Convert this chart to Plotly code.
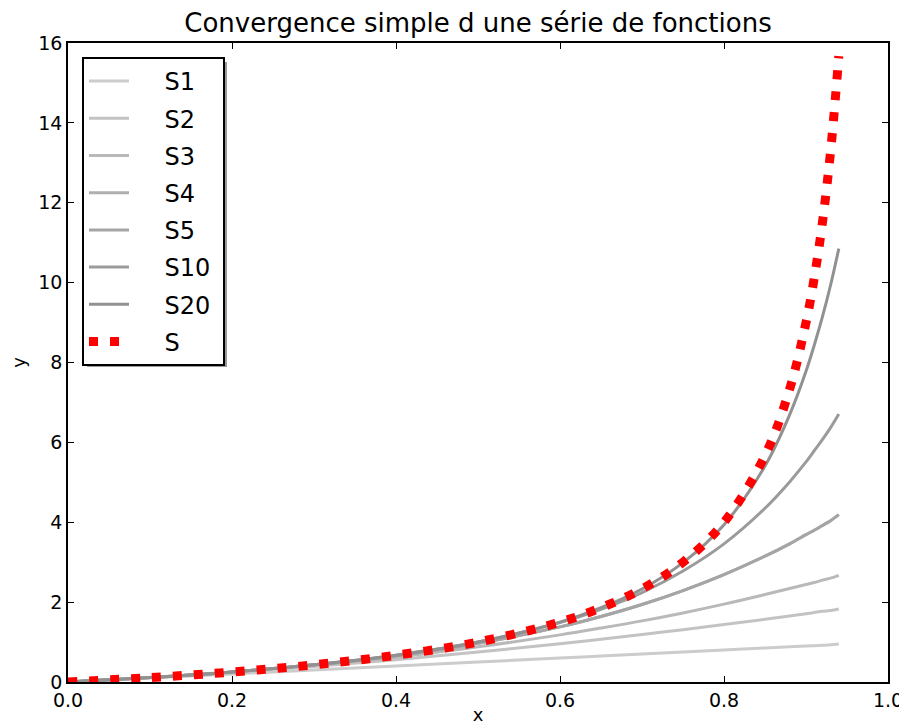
import plotly.graph_objects as go

# sampled x positions
x = [0.0, 0.1, 0.2, 0.3, 0.4, 0.5, 0.6, 0.65, 0.7, 0.75, 0.8, 0.85, 0.88, 0.9, 0.91, 0.92, 0.93, 0.94]

# partial sums
s1 = [0.0, 0.10, 0.20, 0.30, 0.40, 0.50, 0.60, 0.65, 0.70, 0.75, 0.80, 0.85, 0.88, 0.90, 0.91, 0.92, 0.93, 0.95]
s2 = [0.0, 0.11, 0.24, 0.39, 0.56, 0.75, 0.96, 1.07, 1.19, 1.31, 1.44, 1.57, 1.65, 1.71, 1.74, 1.77, 1.79, 1.83]
s3 = [0.0, 0.11, 0.25, 0.42, 0.62, 0.88, 1.18, 1.35, 1.53, 1.73, 1.95, 2.19, 2.34, 2.44, 2.49, 2.55, 2.60, 2.67]
s4 = [0.0, 0.11, 0.25, 0.43, 0.66, 0.97, 1.38, 1.64, 1.94, 2.29, 2.69, 3.15, 3.46, 3.69, 3.80, 3.92, 4.04, 4.19]
s5 = [0.0, 0.11, 0.25, 0.43, 0.66, 0.97, 1.38, 1.64, 1.94, 2.29, 2.69, 3.15, 3.46, 3.69, 3.80, 3.92, 4.04, 4.19]
s10 = [0.0, 0.11, 0.25, 0.43, 0.67, 1.00, 1.49, 1.82, 2.24, 2.78, 3.46, 4.35, 5.01, 5.51, 5.79, 6.07, 6.37, 6.71]
s20 = [0.0, 0.11, 0.25, 0.43, 0.67, 1.00, 1.50, 1.86, 2.33, 2.99, 3.94, 5.41, 6.69, 7.78, 8.43, 9.14, 9.94, 10.85]
s_lim = [0.0, 0.11, 0.25, 0.43, 0.67, 1.00, 1.50, 1.86, 2.33, 3.00, 4.00, 5.67, 7.33, 9.00, 10.11, 11.50, 13.29, 15.67]

names = ["S1", "S2", "S3", "S4", "S5", "S10", "S20"]
series = [s1, s2, s3, s4, s5, s10, s20]
greys = ["#cccccc", "#c3c3c3", "#b9b9b9", "#afafaf", "#a5a5a5", "#9b9b9b", "#919191"]

NB = "\u00a0"
def label(nm):
    return NB * 4 + nm + NB

fig = go.Figure()
for i, (nm, ys) in enumerate(zip(names, series)):
    fig.add_trace(go.Scatter(x=x, y=ys, mode="lines", name=label(nm), legendgroup=nm,
                             line=dict(color=greys[i], width=3, shape="spline")))
fig.add_trace(go.Scatter(x=x, y=s_lim, mode="lines", name=label("S"), legendgroup="S",
                         line=dict(color="#ff0000", width=9, dash="9px,12px", shape="spline")))

# page offset of the figure (default body margin)
OFF = 8
W, H = 907 - OFF, 725 - OFF
L, T = 68 - OFF, 43 - OFF
R = W - (888 - OFF)
B = H - (682 - OFF)
pw, ph = W - L - R, H - T - B

def px2paper(px, py):
    return (px - OFF - L) / pw, (H - B - (py - OFF)) / ph

sx0, sy1 = px2paper(87, 62)
sx1, sy0 = px2paper(227, 367)
fig.add_shape(type="rect", xref="paper", yref="paper", x0=sx0, x1=sx1, y0=sy0, y1=sy1,
              fillcolor="#999999", line=dict(width=0), layer="above")

lx, ly = px2paper(82, 57)
axis_common = dict(showline=True, linecolor="black", linewidth=1.5, mirror="ticks",
                   ticks="inside", ticklen=6, tickcolor="black", showgrid=False, zeroline=False,
                   automargin=False, tickfont=dict(size=19, color="black"))
fig.update_layout(
    width=W, height=H,
    margin=dict(l=L, r=R, t=T, b=B),
    paper_bgcolor="white", plot_bgcolor="white",
    font=dict(family="DejaVu Sans", color="black"),
    title=dict(text="Convergence simple d une série de fonctions", x=(L + pw / 2) / W, xanchor="center",
               y=1 - (23 - OFF) / H, yanchor="middle", font=dict(size=26)),
    xaxis=dict(range=[0, 1], dtick=0.2, tickformat=".1f",
               title=dict(text="x", font=dict(size=18), standoff=10), **axis_common),
    yaxis=dict(range=[0, 16], dtick=2,
               title=dict(text="y", font=dict(size=18), standoff=21), **axis_common),
    legend=dict(x=lx, y=ly, xanchor="left", yanchor="top", bgcolor="white",
                bordercolor="black", borderwidth=2, font=dict(size=24),
                tracegroupgap=3, itemwidth=40),
    showlegend=True,
)
fig.write_html("out.html")
